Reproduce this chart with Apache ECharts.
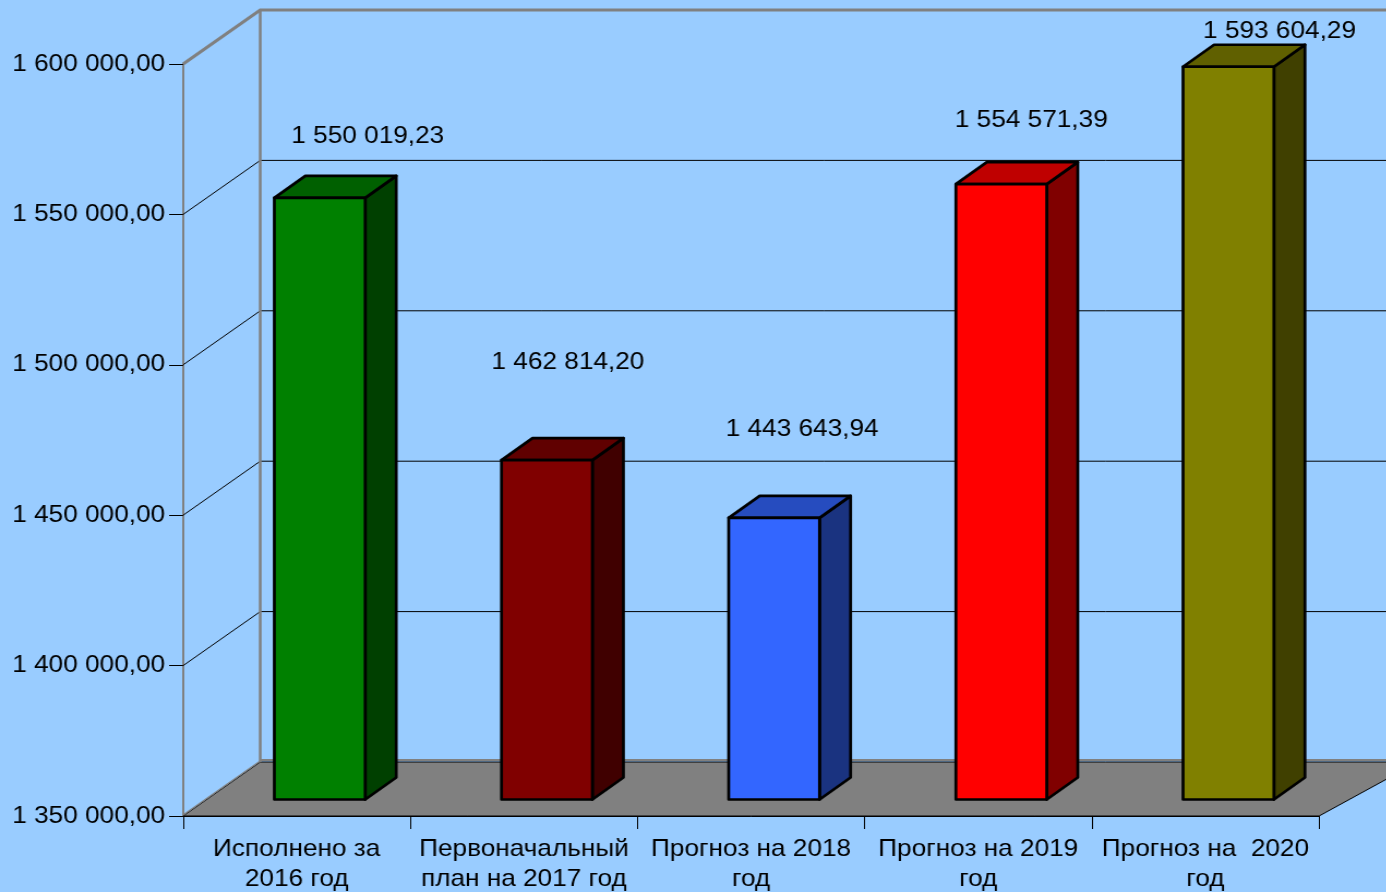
<!DOCTYPE html>
<html>
<head>
<meta charset="utf-8">
<title>Прогноз</title>
<script src="https://cdn.jsdelivr.net/npm/echarts@6/dist/echarts.min.js"></script>
<style>
    html, body { margin: 0; padding: 0; background: #99CCFF; overflow: hidden; }
    #chart { transform-origin: 0 0; }
</style>
</head>
<body>
<div id="chart"></div>
<script>
const categories = ["Исполнено за\n2016 год", "Первоначальный\nплан на 2017 год", "Прогноз на 2018\nгод", "Прогноз на 2019\nгод", "Прогноз на  2020\nгод"];
const values = [1550019.23, 1462814.20, 1443643.94, 1554571.39, 1593604.29];
const axisMin = 1350000;
const axisMax = 1600000;
const axisStep = 50000;
const gridValues = [1350000, 1400000, 1450000, 1500000, 1550000, 1600000];

// цвета граней: перед, верх, бок
const frontColors = ["#008000", "#800000", "#3366FF", "#FF0000", "#808000"];
const topColors = ["#006000", "#600000", "#264CBF", "#BF0000", "#606000"];
const sideColors = ["#004000", "#400000", "#1A3380", "#800000", "#404000"];
// подписи в исходнике сдвинуты вручную
const labelShift = [[48, -61], [21, -98], [28, -88], [30, -64], [51, -35]];

// исходная картинка растянута по горизонтали, текст тоже
const SX = 1.09;
const wallDepth = [77 / SX, 54];
const barStart = [23 / SX, 16.5];
const barDepth = [31 / SX, 22];

const fmt = (v) => {
    const [a, b] = v.toFixed(2).split(".");
    return a.replace(/\B(?=(\d{3})+$)/g, " ") + "," + b;
};

const dom = document.getElementById("chart");
dom.style.transform = `scaleX(${SX})`;
const chart = echarts.init(dom, null, { width: 1386 / SX, height: 892 });

function renderWall(params, api) {
    const cs = params.coordSys;
    const v = api.value(1);
    const y = api.coord([0, v])[1];
    const x0 = cs.x;
    const xb = x0 + wallDepth[0];
    const yb = y - wallDepth[1];
    const right = x0 + cs.width + wallDepth[0] + 20;
    const children = [];
    if (v === axisMin) {
        children.push({
            type: "polygon",
            shape: { points: [[x0, y], [xb, yb], [right, yb], [right - wallDepth[0] - 20, y]] },
            style: { fill: "#808080", stroke: "#000", lineWidth: 1 },
        });
        children.push({
            type: "line",
            shape: { x1: x0, y1: y - 1, x2: xb, y2: yb - 1 },
            style: { stroke: "#808080", lineWidth: 1.5 },
        });
        children.push({
            type: "line",
            shape: { x1: xb, y1: yb - 2, x2: right, y2: yb - 2 },
            style: { stroke: "#808080", lineWidth: 2 },
        });
    } else {
        const top = v === axisMax;
        const stroke = top ? "#808080" : "#000";
        const lineWidth = top ? 3 : 1;
        children.push({
            type: "polyline",
            shape: { points: [[x0, y], [xb, yb], [right, yb]] },
            style: { stroke, lineWidth, fill: "none" },
        });
    }
    if (v === axisMax) {
        children.push({
            type: "line",
            shape: { x1: xb, y1: yb, x2: xb, y2: yb + cs.height },
            style: { stroke: "#808080", lineWidth: 2.5 },
        });
    }
    return { type: "group", children };
}

function renderBar(params, api) {
    const i = api.value(0);
    const band = api.size([1, 0])[0];
    const w = band * 0.4;
    const top = api.coord([i, api.value(1)]);
    const base = api.coord([i, axisMin]);
    const x1 = top[0] + barStart[0] - w / 2;
    const x2 = x1 + w;
    const y1 = top[1] - barStart[1];
    const y2 = base[1] - barStart[1];
    const dx = barDepth[0];
    const dy = barDepth[1];
    const edge = { stroke: "#000", lineWidth: 2.7, lineJoin: "round" };
    return {
        type: "group",
        children: [
            { type: "polygon", shape: { points: [[x2, y1], [x2 + dx, y1 - dy], [x2 + dx, y2 - dy], [x2, y2]] }, style: { fill: sideColors[i], ...edge } },
            { type: "polygon", shape: { points: [[x1, y1], [x1 + dx, y1 - dy], [x2 + dx, y1 - dy], [x2, y1]] }, style: { fill: topColors[i], ...edge } },
            { type: "rect", shape: { x: x1, y: y1, width: w, height: y2 - y1 }, style: { fill: frontColors[i], ...edge } },
            {
                type: "text",
                style: {
                    x: (x1 + x2) / 2 + labelShift[i][0] / SX,
                    y: y1 + labelShift[i][1],
                    text: fmt(api.value(1)),
                    fill: "#000",
                    font: '24px "Liberation Sans"',
                    align: "center",
                    verticalAlign: "middle",
                },
            },
        ],
    };
}

chart.setOption({
    animation: false,
    backgroundColor: "#99CCFF",
    textStyle: { fontFamily: "Liberation Sans" },
    grid: { left: 183 / SX, top: 64, width: 1135 / SX, height: 752, outerBoundsMode: "none" },
    xAxis: {
        type: "category",
        data: categories,
        z: 5,
        axisLine: { lineStyle: { color: "#000", width: 1 } },
        axisTick: { show: true, length: 13, lineStyle: { color: "#000", width: 1 } },
        axisLabel: { interval: 0, color: "#000", fontSize: 24, lineHeight: 30, margin: 18 },
    },
    yAxis: {
        type: "value",
        min: axisMin,
        max: axisMax,
        interval: axisStep,
        z: 1,
        axisLine: { show: true, lineStyle: { color: "#808080", width: 2 } },
        axisTick: { show: true, length: 14 / SX, lineStyle: { color: "#000", width: 1 } },
        axisLabel: { color: "#000", fontSize: 24, margin: 18 / SX, formatter: fmt },
        splitLine: { show: false },
    },
    series: [
        {
            type: "custom",
            renderItem: renderWall,
            data: gridValues.map((v) => [0, v]),
            z: 2,
            silent: true,
        },
        {
            type: "custom",
            renderItem: renderBar,
            data: values.map((v, i) => [i, v]),
            z: 3,
        },
    ],
});
</script>
</body>
</html>
